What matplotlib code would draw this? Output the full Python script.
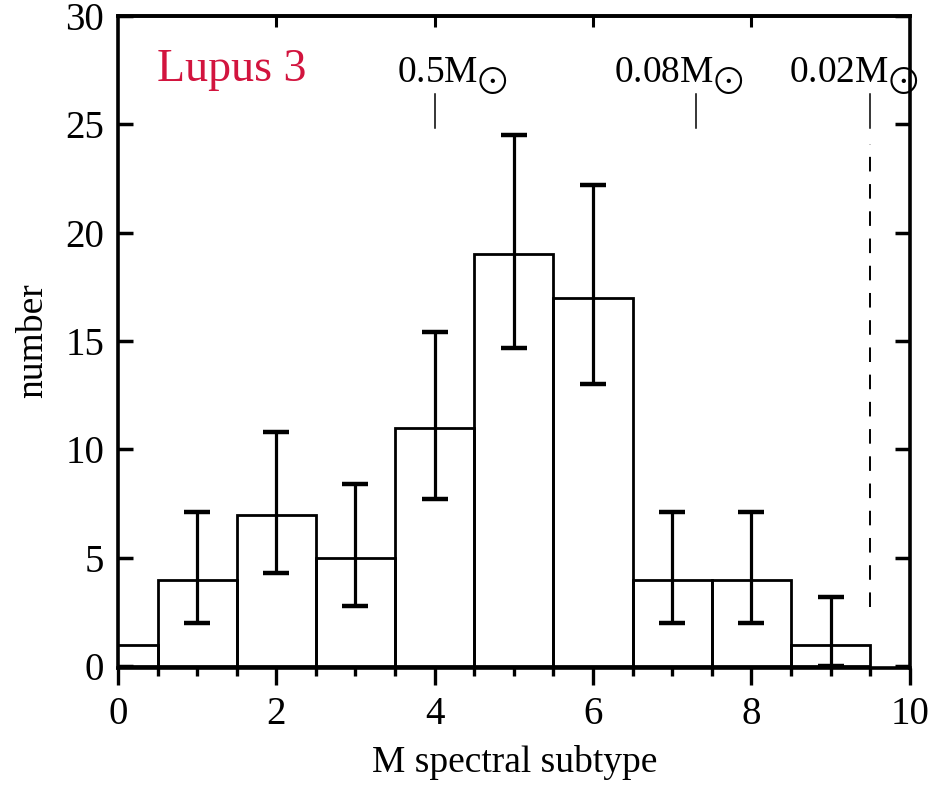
import matplotlib
matplotlib.use("Agg")
import matplotlib.pyplot as plt
import numpy as np

plt.rcParams["font.family"] = ["Liberation Serif", "DejaVu Serif"]
plt.rcParams["mathtext.fontset"] = "stix"

# histogram of M spectral subtypes
subtypes = [0, 1, 2, 3, 4, 5, 6, 7, 8, 9]
counts = [1, 4, 7, 5, 11, 19, 17, 4, 4, 1]

# error bars (lower / upper limits), no bar for subtype 0
err_subtypes = [1, 2, 3, 4, 5, 6, 7, 8, 9]
err_lower = [2.0, 4.3, 2.8, 7.7, 14.7, 13.0, 2.0, 2.0, 0.0]
err_upper = [7.1, 10.8, 8.4, 15.4, 24.5, 22.2, 7.1, 7.1, 3.2]

# mass markers along the subtype axis
mass_labels = ["0.5", "0.08", "0.02"]
mass_subtypes = [4.0, 7.3, 9.5]

# layout
MASS_TEXT_X = [3.52, 6.27, 8.48]
MASS_TEXT_Y = 26.9
MARK_LO, MARK_HI = 24.8, 26.4
DASH_LO, DASH_HI = 2.75, 24.1

fig = plt.figure(figsize=(9.36, 7.86), dpi=100)
ax = fig.add_axes([0.126, 0.150, 0.846, 0.830])

ax.bar(subtypes, counts, width=1.0, fill=False, edgecolor="black",
       linewidth=2.0, zorder=2)

yerr = np.array([np.array(counts[1:]) - np.array(err_lower),
                 np.array(err_upper) - np.array(counts[1:])])
ax.errorbar(err_subtypes, counts[1:], yerr=yerr, fmt="none", ecolor="black",
            elinewidth=2.3, capsize=9.5, capthick=3.2, zorder=3)

for label, xm, xt in zip(mass_labels, mass_subtypes, MASS_TEXT_X):
    ax.plot([xm, xm], [MARK_LO, MARK_HI], color="black", linewidth=1.1)
    ax.text(xt, MASS_TEXT_Y, label + r"M$_{\bigodot}$", fontsize=27,
            ha="left", va="baseline")

ax.plot([mass_subtypes[-1], mass_subtypes[-1]], [DASH_LO, DASH_HI],
        color="black", linewidth=1.4, linestyle=(0, (7.5, 6.5)))

ax.text(0.49, 27.0, "Lupus 3", fontsize=33, color="#d2143e",
        ha="left", va="baseline")

ax.set_xlim(0, 10)
ax.set_ylim(-0.08, 30)
ax.set_xticks(range(0, 11, 2))
ax.set_xticks(np.arange(0, 10.01, 0.5), minor=True)
ax.set_yticks(range(0, 31, 5))

ax.tick_params(axis="x", which="major", direction="out", length=12,
               width=2.4, labelsize=28, pad=8)
ax.tick_params(axis="x", which="minor", direction="out", length=6, width=2.4)
ax.tick_params(axis="y", which="major", direction="in", left=True,
               right=True, length=11, width=2.5, labelsize=28, pad=10)

top = ax.secondary_xaxis("top")
top.set_xticks([2, 4, 6, 8])
top.tick_params(direction="in", length=8, width=2.2, labeltop=False)
top.spines["top"].set_linewidth(2.6)

for spine in ax.spines.values():
    spine.set_linewidth(2.6)

fig.text(0.035, 0.567, "number", fontsize=27, rotation=90,
         ha="center", va="center")
fig.text(0.55, 0.03, "M spectral subtype", fontsize=27,
         ha="center", va="center")

fig.savefig("out.png", dpi=100)
